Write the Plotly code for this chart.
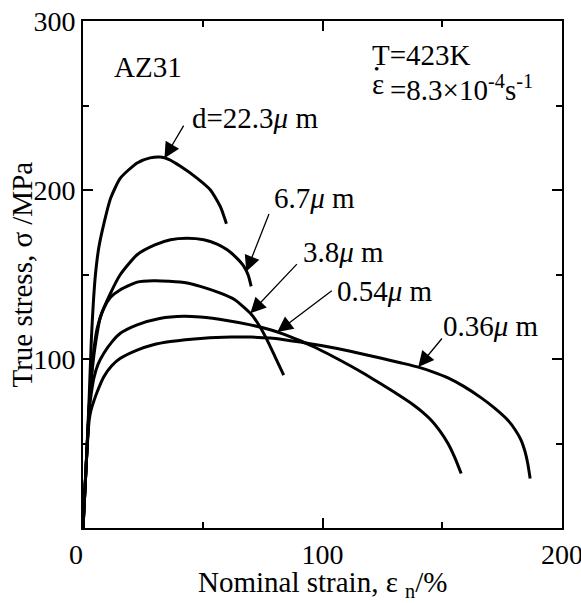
import numpy as np
import plotly.graph_objects as go

# ---- data ----
labels = ["d=22.3<i>μ</i> m", "6.7<i>μ</i> m", "3.8<i>μ</i> m", "0.54<i>μ</i> m", "0.36<i>μ</i> m"]

x_223 = [0, 1.5, 2.6, 3.5, 4.3, 5.2, 6.6, 8.7, 11.5, 15.6, 22.6, 28, 32.3, 36, 40.7, 47.6, 53.2, 57.4, 59.9]
y_223 = [0, 42, 78, 112, 133, 150, 166, 180, 195, 207, 216, 219, 219.5, 218, 214, 207, 200, 190, 180]

x_67 = [0, 1.5, 2.6, 3.6, 5.0, 7.3, 11.5, 15.6, 22.6, 30, 36.5, 43.5, 50.4, 56, 60.2, 64, 67.1, 69.0, 70.2]
y_67 = [0, 42, 72, 90, 107, 125, 139, 150, 161.7, 167.5, 170.6, 171.5, 170.6, 168, 164.6, 160, 155, 149.5, 143]

x_38 = [0, 1.5, 2.6, 3.5, 4.5, 5.9, 8.7, 11.5, 15.6, 22.6, 29.5, 36, 43.5, 49, 57.4, 62.9, 66.5, 69.9, 73.5, 76.8, 80.3, 83.8]
y_38 = [0, 42, 72, 90, 105, 118, 130, 136.5, 141, 145.5, 146.3, 146, 145, 143, 139, 135.5, 131.5, 127, 120, 111.5, 101, 90.5]

x_054 = [0, 1.5, 2.6, 3.4, 4.5, 6.3, 8.7, 12, 15.6, 22.6, 32, 42, 49, 60, 69.9, 78.2, 84, 90.7, 97, 104,
         111.6, 118, 124, 131, 138, 142, 145.4, 149, 152.4, 155.3, 157.9]
y_054 = [0, 42, 70, 79, 88.5, 97, 103.4, 110, 115.2, 120.2, 124, 125.3, 124.8, 122.8, 120.2, 117.3, 114.6, 110.8, 106.8, 101.8,
         96, 90.8, 85.6, 79.4, 72.8, 68.3, 63.8, 57.5, 50, 41.5, 32.2]

x_036 = [0, 1.5, 2.6, 3.4, 4.5, 5.9, 8.7, 12, 15.6, 22.6, 29, 36.5, 50.4, 62, 70, 78.2, 84, 90.7, 100, 111.6,
         124.6, 132.5, 140, 146, 152.4, 159, 166.3, 172, 177.4, 180.5, 182.9, 184.6, 185.7, 186.7]
y_036 = [0, 42, 64, 70, 75, 80.5, 89.5, 96, 100.4, 105.3, 108.3, 110.3, 112.3, 113, 113, 112.4, 111.4, 110.0, 107.8, 104.6,
         100.4, 97.8, 95.2, 92.4, 88.8, 83.8, 77, 70.8, 63.8, 58, 52, 45, 38.2, 29.3]

series_x = [x_223, x_67, x_38, x_054, x_036]
series_y = [y_223, y_67, y_38, y_054, y_036]

x_ticks = [0, 100, 200]
x_ticktext = ["0\u00a0\u00a0", "100", "200"]
y_ticks = [100, 200, 300]
y_ticktext = ["100", "200", "300"]

FONT = "Liberation Serif, Times New Roman, serif"
FS_TICK = 28
FS = 29

fig = go.Figure()
for xs, ys in zip(series_x, series_y):
    fig.add_trace(go.Scatter(x=xs, y=ys, mode="lines",
                             line=dict(color="black", width=3, shape="spline", smoothing=0.6),
                             showlegend=False, hoverinfo="skip"))

# arrows: tip x on curve, tail (data coords), label position
arrow_tip_x = [34, 68.2, 69.9, 81.1, 140]
arrow_tail = [(42.4, 239), (77.9, 186.7), (89.9, 157), (104.5, 141), (150.4, 113)]
label_pos = [(44.8, 242.5), (78.8, 195), (91.0, 163.6), (105.4, 140), (149.6, 119.4)]

ann = []
for i in range(5):
    tx = arrow_tip_x[i]
    ty = float(np.interp(tx, series_x[i], series_y[i]))
    ann.append(dict(x=tx, y=ty, xref="x", yref="y", ax=arrow_tail[i][0], ay=arrow_tail[i][1],
                    axref="x", ayref="y", text="", showarrow=True, arrowhead=2, arrowsize=2.4,
                    arrowwidth=1.3, arrowcolor="black", standoff=0, startstandoff=0))
    ann.append(dict(x=label_pos[i][0], y=label_pos[i][1], xref="x", yref="y", text=labels[i],
                    showarrow=False, xanchor="left", yanchor="middle",
                    font=dict(family=FONT, size=FS, color="black")))

ann.append(dict(x=12.0, y=272.6, xref="x", yref="y", text="AZ31", showarrow=False,
                xanchor="left", yanchor="middle", font=dict(family=FONT, size=FS, color="black")))
ann.append(dict(x=119.8, y=279.6, xref="x", yref="y", text="T=423K", showarrow=False,
                xanchor="left", yanchor="middle", font=dict(family=FONT, size=FS, color="black")))
# strain rate: raised epsilon with a dot above, then the value
ann.append(dict(x=123.0, y=263.0, xref="x", yref="y", text="ε", showarrow=False,
                xanchor="center", yanchor="middle", font=dict(family=FONT, size=FS, color="black")))
ann.append(dict(x=122.5, y=271.4, xref="x", yref="y", text="•", showarrow=False,
                xanchor="center", yanchor="middle", font=dict(family=FONT, size=15, color="black")))
ann.append(dict(x=127.2, y=260.2, xref="x", yref="y",
                text="=8.3×10<sup>-4</sup>s<sup>-1</sup>", showarrow=False,
                xanchor="left", yanchor="middle", font=dict(family=FONT, size=FS, color="black")))

# axis titles
ann.append(dict(x=0, y=0.5, xref="paper", yref="paper", xshift=-62, text="True stress, σ /MPa",
                textangle=-90, showarrow=False, xanchor="center", yanchor="middle",
                font=dict(family=FONT, size=FS, color="black")))
ann.append(dict(x=0.5, y=0, xref="paper", yref="paper", yshift=-56,
                text="Nominal strain, ε <sub>n</sub>/%", showarrow=False,
                xanchor="center", yanchor="middle", font=dict(family=FONT, size=FS, color="black")))

axis_common = dict(showline=True, linecolor="black", linewidth=2, mirror="ticks",
                   ticks="inside", ticklen=10, tickwidth=1.5, tickcolor="black",
                   showgrid=False, zeroline=False, automargin=False, ticklabeloverflow="allow",
                   tickfont=dict(family=FONT, size=FS_TICK, color="black"))

fig.update_layout(
    width=581, height=603,
    margin=dict(l=83, r=19, t=21, b=75),
    paper_bgcolor="white", plot_bgcolor="white",
    xaxis=dict(range=[0, 200], tickmode="array", tickvals=x_ticks, ticktext=x_ticktext,
               minor=dict(tickmode="array", tickvals=[50, 150], ticks="inside", ticklen=6,
                          tickwidth=1.5, tickcolor="black", showgrid=False),
               **axis_common),
    yaxis=dict(range=[0, 300], tickmode="array", tickvals=y_ticks, ticktext=y_ticktext,
               minor=dict(tickmode="array", tickvals=[50, 150, 250], ticks="inside", ticklen=6,
                          tickwidth=1.5, tickcolor="black", showgrid=False),
               **axis_common),
    annotations=ann,
)

fig.write_html("out.html", config={"displayModeBar": False},
               post_script="document.body.style.margin='0';document.body.style.overflow='hidden';")
